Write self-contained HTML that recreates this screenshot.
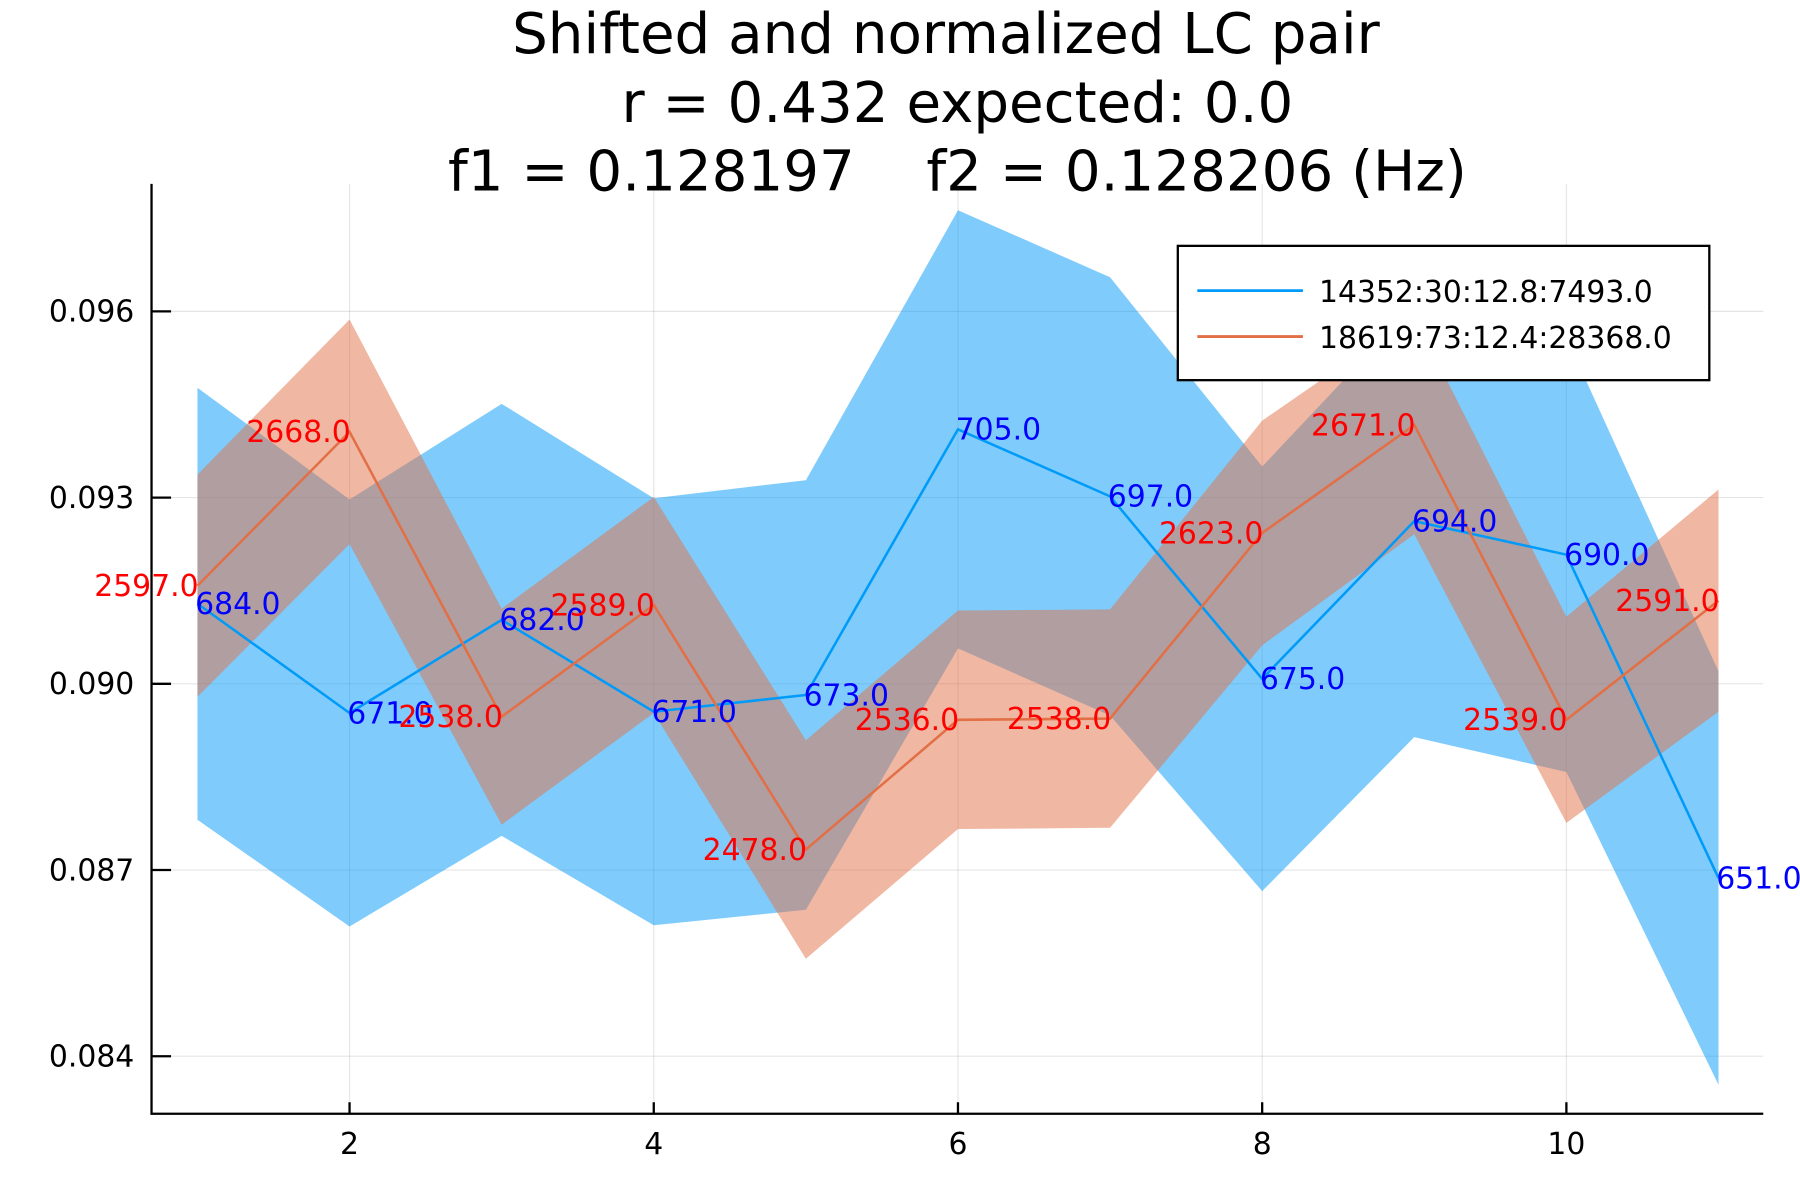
<!DOCTYPE html>
<html><head><meta charset="utf-8"><style>
html,body{margin:0;padding:0;background:#fff;}
svg{display:block;font-family:"DejaVu Sans","Liberation Sans",sans-serif;}
text{white-space:pre;}
</style></head><body>
<svg id="chart" width="1800" height="1200" viewBox="0 0 1568 1045" xmlns="http://www.w3.org/2000/svg">
<rect width="1568" height="1045" fill="#fff"/>
<g font-size="49" text-anchor="middle" fill="#000">
<text x="824" y="46">Shifted and normalized LC pair</text>
<text x="834" y="106">r = 0.432 expected: 0.0</text>
<text x="834" y="166" xml:space="preserve">f1 = 0.128197    f2 = 0.128206 (Hz)</text>
</g>
<g id="grid"></g>
<g id="bands"></g>
<g id="lines"></g>
<g id="labels"></g>
<g id="axes"></g>
<g>
<rect x="1026" y="214" width="463" height="117" fill="#fff" stroke="#000" stroke-width="2"/>
<line x1="1043" y1="253" x2="1135" y2="253" stroke="#009af9" stroke-width="2.5"/>
<text x="1149" y="263" font-size="26">14352:30:12.8:7493.0</text>
<line x1="1043" y1="293" x2="1135" y2="293" stroke="#e26f46" stroke-width="2.5"/>
<text x="1149" y="303" font-size="26">18619:73:12.4:28368.0</text>
</g>
</svg>
<script>
const xs = [1,2,3,4,5,6,7,8,9,10,11];
const blueVals = [0.09129,0.08953,0.09103,0.08955,0.08982,0.09410,0.09302,0.09008,0.09262,0.09208,0.08687];
const blueErr = [0.00348,0.00344,0.00348,0.00344,0.00346,0.00353,0.00353,0.00342,0.00348,0.00350,0.00333];
const blueLabels = ["684.0","671.0","682.0","671.0","673.0","705.0","697.0","675.0","694.0","690.0","651.0"];
const orangeVals = [0.09158,0.09406,0.08947,0.09127,0.08733,0.08942,0.08944,0.09243,0.09417,0.08942,0.09134];
const orangeErr = [0.00179,0.00181,0.00174,0.00174,0.00176,0.00176,0.00176,0.00181,0.00176,0.00166,0.00179];
const orangeLabels = ["2597.0","2668.0","2538.0","2589.0","2478.0","2536.0","2538.0","2623.0","2671.0","2539.0","2591.0"];
const xTicks = [2,4,6,8,10];
const yTicks = [0.084,0.087,0.090,0.093,0.096];
const yTickLabels = ["0.084","0.087","0.090","0.093","0.096"];

const L=132,R=1536,T=160,B=970;
const X = v => 304.5 + (v-2)*132.5;
const Y = v => 595.5 - (v-0.090)*54070;
const NS="http://www.w3.org/2000/svg";
function mk(tag, attrs, parent){const e=document.createElementNS(NS,tag);for(const k in attrs)e.setAttribute(k,attrs[k]);parent.appendChild(e);return e;}
const grid=document.getElementById('grid'), bands=document.getElementById('bands'), lines=document.getElementById('lines'), labels=document.getElementById('labels'), axes=document.getElementById('axes');

xTicks.forEach(t=>{const g=mk('line',{x1:X(t),x2:X(t),y1:T,y2:B,stroke:'#000','stroke-opacity':0.1,'stroke-width':1},grid);

});
yTicks.forEach(t=>{const g=mk('line',{x1:L,x2:R,y1:Y(t),y2:Y(t),stroke:'#000','stroke-opacity':0.1,'stroke-width':1},grid);

});

function band(vals,err,color,name){
  const up=xs.map((x,i)=>X(x)+','+Y(vals[i]+err[i]));
  const lo=xs.map((x,i)=>X(x)+','+Y(vals[i]-err[i])).reverse();
  const p=mk('polygon',{points:up.concat(lo).join(' '),fill:color,'fill-opacity':0.5},bands);
  
  
}
band(blueVals,blueErr,'#009af9','blue-error-band');
band(orangeVals,orangeErr,'#e26f46','orange-error-band');

function line(vals,color,name){
  const p=mk('polyline',{points:xs.map((x,i)=>X(x)+','+Y(vals[i])).join(' '),fill:'none',stroke:color,'stroke-width':2.2},lines);
  
  
}
line(blueVals,'#009af9','blue-series-line');
line(orangeVals,'#e26f46','orange-series-line');

xs.forEach((x,i)=>{
  const t=mk('text',{x:X(x)-2,y:Y(blueVals[i])+9,'font-size':26,fill:'#0000ff'},labels);t.textContent=blueLabels[i];
  
  
  const o=mk('text',{x:X(x)+1,y:Y(orangeVals[i])+9,'font-size':26,fill:'#ff0000','text-anchor':'end'},labels);o.textContent=orangeLabels[i];
  
  
});

const ax1=mk('line',{x1:L,x2:L,y1:T,y2:B+1,stroke:'#000','stroke-width':2},axes);


const ax2=mk('line',{x1:L,x2:R,y1:B,y2:B,stroke:'#000','stroke-width':2},axes);


xTicks.forEach(t=>{
  const k=mk('line',{x1:X(t),x2:X(t),y1:B,y2:B-10,stroke:'#000','stroke-width':2},axes);
  
  
  const l=mk('text',{x:X(t),y:B+35,'font-size':26,'text-anchor':'middle'},axes);l.textContent=String(t);
  
  
});
yTicks.forEach((t,i)=>{
  const k=mk('line',{x1:L,x2:L+17,y1:Y(t),y2:Y(t),stroke:'#000','stroke-width':2},axes);
  
  
  const l=mk('text',{x:117,y:Y(t)+9,'font-size':26,'text-anchor':'end'},axes);l.textContent=yTickLabels[i];
  
  
});
</script>
</body></html>
